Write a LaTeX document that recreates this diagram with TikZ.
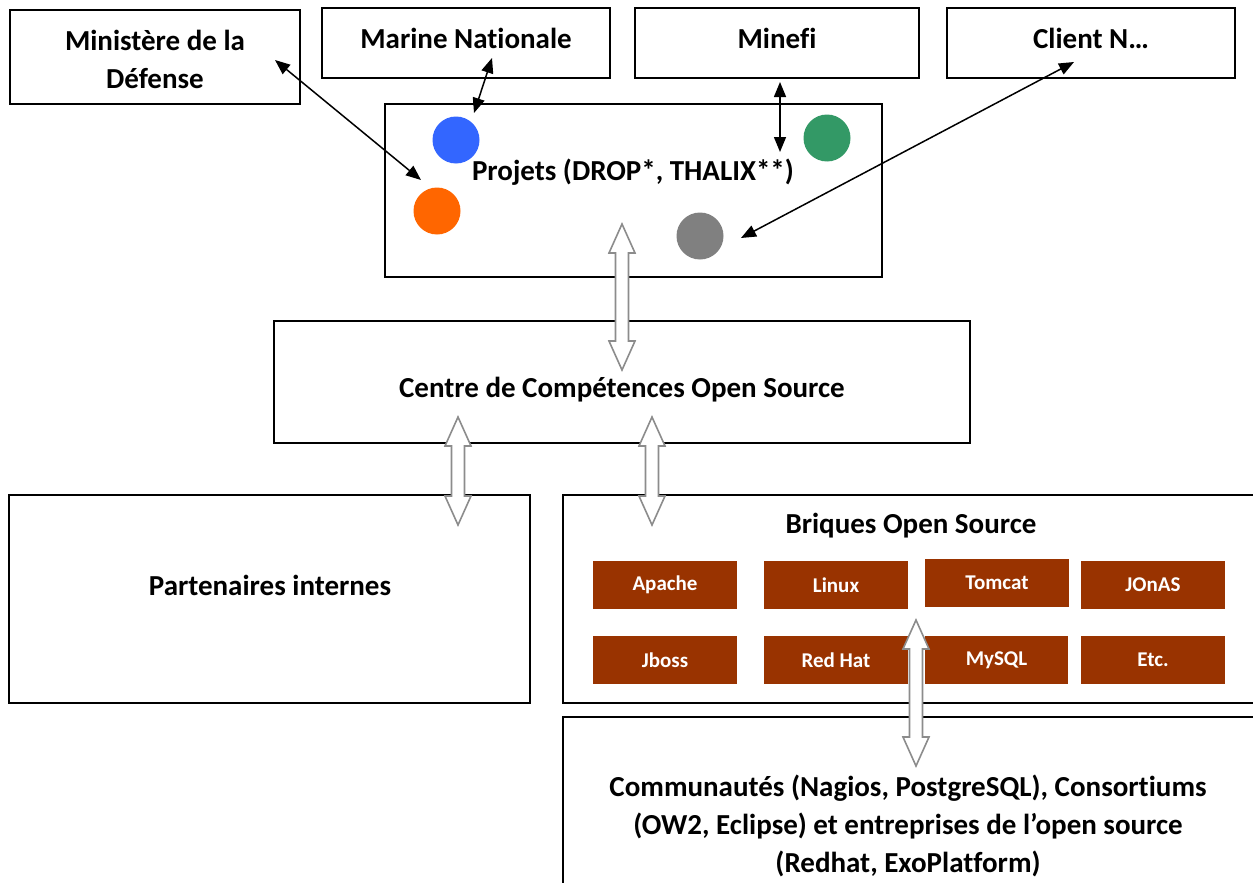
\documentclass[tikz,border=0pt]{standalone}
\usepackage{fontspec}
\setmainfont{Carlito}[Ligatures=NoCommon]
\usetikzlibrary{arrows.meta,calc}
\definecolor{brick}{HTML}{993300}
\definecolor{dblue}{HTML}{3366FF}
\definecolor{dorange}{HTML}{FF6600}
\definecolor{dgreen}{HTML}{339966}
\definecolor{dgray}{HTML}{808080}
\definecolor{arrgray}{HTML}{8C8C8C}
\tikzset{
  box/.style={draw=black, line width=1.5pt, fill=white},
  lbl/.style={font=\fontsize{29}{38}\selectfont\bfseries, align=center, inner sep=0pt},
  brickbox/.style={fill=brick, draw=none, minimum width=144pt, minimum height=48pt, inner sep=0pt,
     text=white, font=\fontsize{21}{24}\selectfont\bfseries},
  dot/.style={circle, minimum size=47pt, inner sep=0pt, draw=none},
  biarrow/.style={line width=1.5pt, {Triangle[length=15pt,width=12pt]}-{Triangle[length=15pt,width=12pt]}},
  hollow/.style={draw=arrgray, line width=1.6pt, fill=white, line join=miter},
}
\newcommand{\hollowarr}[2]{%
  \draw[hollow] let \p1=(#1), \p2=(#2) in
    (\x1,\y1) -- (\x1+13pt,\y1-29pt) -- (\x1+6.5pt,\y1-29pt) -- (\x1+6.5pt,\y2+29pt)
    -- (\x1+13pt,\y2+29pt) -- (\x2,\y2) -- (\x1-13pt,\y2+29pt) -- (\x1-6.5pt,\y2+29pt)
    -- (\x1-6.5pt,\y1-29pt) -- (\x1-13pt,\y1-29pt) -- cycle;}
\begin{document}
\begin{tikzpicture}[x=1pt,y=-1pt]
\useasboundingbox (0,0) rectangle (1253,883);
\begin{scope}
\clip (0,0) rectangle (1253,883);
% top boxes
\node[box, minimum width=290pt, minimum height=94pt] (min) at (155,57) {};
\node[lbl] (mint) at (155,59) {Ministère de la\\Défense};
\node[box, minimum width=288pt, minimum height=70pt] (mar) at (466,43) {};
\node[lbl] (mart) at (466,38) {Marine Nationale};
\node[box, minimum width=284pt, minimum height=70pt] (mnf) at (777,43) {};
\node[lbl] (mnft) at (777,38) {Minefi};
\node[box, minimum width=288pt, minimum height=70pt] (cli) at (1091,43) {};
\node[lbl] (clit) at (1091,38) {Client N…};
% projets
\node[box, minimum width=497pt, minimum height=173pt] (proj) at (633.5,190.5) {};
\node[lbl] (projt) at (633,172) {Projets (DROP*, THALIX**)};
\node[dot, fill=dblue] (cb) at (456,140) {};
\node[dot, fill=dorange] (co) at (437,211) {};
\node[dot, fill=dgreen] (cg) at (827,138) {};
\node[dot, fill=dgray] (cgr) at (700,236) {};
% centre
\node[box, minimum width=696pt, minimum height=122pt] (cen) at (622,382) {};
\node[lbl] (cent) at (622,390) {Centre de Compétences Open Source};
% partenaires
\node[box, minimum width=521pt, minimum height=208pt] (par) at (269.5,599) {};
\node[lbl] (part) at (270,585) {Partenaires internes};
% briques
\draw[box] (563,495) rectangle (1260,703);
\node[lbl] (briq) at (911,526) {Briques Open Source};
\node[brickbox] (b1) at (665,585) {Apache};
\node[brickbox] (b2) at (836,585) {Linux};
\node[brickbox] (b3) at (997,583) {Tomcat};
\node[brickbox] (b4) at (1153,585) {JOnAS};
\node[brickbox] (b5) at (665,660) {Jboss};
\node[brickbox] (b6) at (836,660) {Red Hat};
\node[brickbox, minimum width=143pt] (b7) at (996.5,660) {MySQL};
\node[brickbox] (b8) at (1153,660) {Etc.};
% communautes
\draw[box] (563,717) rectangle (1260,900);
\node[lbl] (comt) at (908,826) {Communautés (Nagios, PostgreSQL), Consortiums\\(OW2, Eclipse) et entreprises de l’open source\\(Redhat, ExoPlatform)};
\end{scope}
% black connectors
\coordinate (m1) at (275,60); \coordinate (m2) at (421,180);
\coordinate (n1) at (492,58); \coordinate (n2) at (474,113);
\coordinate (f1) at (780,82); \coordinate (f2) at (780,152);
\coordinate (c1) at (1074,62); \coordinate (c2) at (741,238);
\draw[biarrow] (m1) -- (m2);
\draw[biarrow] (n1) -- (n2);
\draw[biarrow] (f1) -- (f2);
\draw[biarrow] (c1) -- (c2);
% hollow arrows
\coordinate (h1a) at (622,224); \coordinate (h1b) at (622,370);
\coordinate (h2a) at (458,417); \coordinate (h2b) at (458,525);
\coordinate (h3a) at (652,417); \coordinate (h3b) at (652,525);
\coordinate (h4a) at (916,620); \coordinate (h4b) at (916,766);
\hollowarr{h1a}{h1b}
\hollowarr{h2a}{h2b}
\hollowarr{h3a}{h3b}
\hollowarr{h4a}{h4b}
\end{tikzpicture}
\end{document}
